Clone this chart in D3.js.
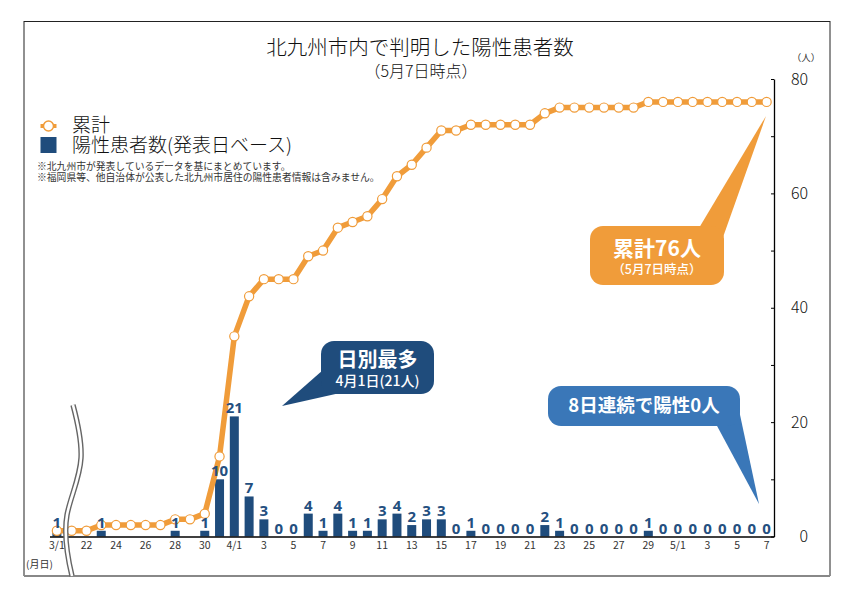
<!DOCTYPE html>
<html>
<head>
<meta charset="utf-8">
<script src="https://cdn.jsdelivr.net/npm/d3@7"></script>
<style>
  body { margin: 0; background: #fff; }
  svg { font-family: "Noto Sans CJK JP", "Noto Sans", sans-serif; }
</style>
</head>
<body>
<script>
// dates (3/2-3/20 are skipped, shown by the break mark)
var dates = ["3/1",
  "3/21","3/22","3/23","3/24","3/25","3/26","3/27","3/28","3/29","3/30","3/31",
  "4/1","4/2","4/3","4/4","4/5","4/6","4/7","4/8","4/9","4/10",
  "4/11","4/12","4/13","4/14","4/15","4/16","4/17","4/18","4/19","4/20",
  "4/21","4/22","4/23","4/24","4/25","4/26","4/27","4/28","4/29","4/30",
  "5/1","5/2","5/3","5/4","5/5","5/6","5/7"];

// daily positives (null = no label shown, drawn as 0)
var daily = [1,
  null,null,1,null,null,null,null,1,null,1,10,
  21,7,3,0,0,4,1,4,1,1,
  3,4,2,3,3,0,1,0,0,0,
  0,2,1,0,0,0,0,0,1,0,
  0,0,0,0,0,0,0];

// cumulative total
var cumulative = [1,
  1,1,2,2,2,2,2,3,3,4,14,
  35,42,45,45,45,49,50,54,55,56,
  59,63,65,68,71,71,72,72,72,72,
  72,74,75,75,75,75,75,75,76,76,
  76,76,76,76,76,76,76];

var tickDates = ["3/1","3/22","3/24","3/26","3/28","3/30","4/1","4/3","4/5","4/7","4/9",
  "4/11","4/13","4/15","4/17","4/19","4/21","4/23","4/25","4/27","4/29",
  "5/1","5/3","5/5","5/7"];
var yTicks = [0,10,20,30,40,50,60,70,80];
var yLabels = [0,20,40,60,80];

var orange = "#f09c3a", navy = "#1f4c7c", blue = "#3a77b8";

var width = 855, height = 600;
var svg = d3.select("body").append("svg")
  .attr("width", width)
  .attr("height", height);

// frame
svg.append("rect")
  .attr("x", 24).attr("y", 21.5)
  .attr("width", 806).attr("height", 554)
  .attr("fill", "none").attr("stroke", "#222").attr("stroke-width", 1);
svg.append("line")
  .attr("x1", 24).attr("x2", 830).attr("y1", 576).attr("y2", 576)
  .attr("stroke", "#888").attr("stroke-width", 2);

var x = d3.scaleBand().domain(dates).range([49.5, 774]).padding(0);
var y = d3.scaleLinear().domain([0, 80]).range([536.5, 79]);

// titles
svg.append("text").attr("x", 420).attr("y", 55)
  .attr("text-anchor", "middle").attr("font-size", 20.5).attr("font-weight", 300).attr("fill", "#111")
  .text("北九州市内で判明した陽性患者数");
svg.append("text").attr("x", 421).attr("y", 77)
  .attr("text-anchor", "middle").attr("font-size", 16).attr("font-weight", 300).attr("fill", "#111")
  .text("（5月7日時点）");

// legend
svg.append("line").attr("x1", 40.5).attr("x2", 56.5).attr("y1", 126).attr("y2", 126)
  .attr("stroke", orange).attr("stroke-width", 4);
svg.append("circle").attr("cx", 48.5).attr("cy", 126).attr("r", 5)
  .attr("fill", "#fff").attr("stroke", orange).attr("stroke-width", 1.5);
svg.append("rect").attr("x", 40.5).attr("y", 137).attr("width", 16).attr("height", 16)
  .attr("fill", navy);
svg.append("text").attr("x", 72).attr("y", 132).attr("font-size", 19).attr("font-weight", 300).attr("fill", "#111")
  .text("累計");
svg.append("text").attr("x", 72).attr("y", 152).attr("font-size", 19).attr("font-weight", 300).attr("fill", "#111")
  .text("陽性患者数(発表日ベース)");
svg.append("text").attr("x", 37).attr("y", 170).attr("font-size", 9.8).attr("fill", "#333")
  .text("※北九州市が発表しているデータを基にまとめています。");
svg.append("text").attr("x", 37).attr("y", 181).attr("font-size", 9.8).attr("fill", "#333")
  .text("※福岡県等、他自治体が公表した北九州市居住の陽性患者情報は含みません。");

// bars
var barW = 9;
svg.selectAll("rect.bar")
  .data(dates)
  .enter().append("rect")
  .attr("class", "bar")
  .attr("x", function(d){ return x(d) + x.bandwidth() / 2 - barW / 2; })
  .attr("y", function(d, i){ return y(daily[i] || 0); })
  .attr("width", barW)
  .attr("height", function(d, i){ return y(0) - y(daily[i] || 0); })
  .attr("fill", navy);

// axes
var xAxis = svg.append("g")
  .attr("transform", "translate(0," + y(0) + ")")
  .call(d3.axisBottom(x)
    .tickValues(tickDates)
    .tickSize(0).tickSizeOuter(0).tickPadding(5.5)
    .tickFormat(function(d){
      var p = d.split("/");
      return p[1] === "1" ? d : p[1];
    }));
xAxis.select(".domain").attr("stroke", "#000").attr("stroke-width", 1.5);
xAxis.selectAll("text").attr("font-size", 10.5).attr("fill", "#333")
  .attr("font-family", "'Noto Sans CJK JP', sans-serif");

var yTickAxis = svg.append("g")
  .attr("transform", "translate(774,0)")
  .call(d3.axisLeft(y).tickValues(yTicks).tickSize(3).tickSizeOuter(0).tickFormat(""));
yTickAxis.select(".domain").attr("stroke", "#000").attr("stroke-width", 1.3);
yTickAxis.selectAll("line").attr("stroke", "#000");

var yLabelAxis = svg.append("g")
  .attr("transform", "translate(774,0)")
  .call(d3.axisRight(y).tickValues(yLabels).tickSize(0).tickPadding(0));
yLabelAxis.select(".domain").remove();
yLabelAxis.selectAll("text")
  .attr("x", 34).attr("text-anchor", "end")
  .attr("font-size", 16).attr("font-weight", 300).attr("fill", "#111")
  .attr("font-family", "'Noto Sans CJK JP', sans-serif");

svg.append("text").attr("x", 806).attr("y", 61).attr("text-anchor", "middle")
  .attr("font-size", 9.5).attr("fill", "#333").text("（人）");
svg.append("text").attr("x", 26).attr("y", 567.5)
  .attr("font-size", 10).attr("fill", "#333").text("(月日)");

// cumulative line
var line = d3.line()
  .x(function(d, i){ return x(dates[i]) + x.bandwidth() / 2; })
  .y(function(d){ return y(d); });
svg.append("path")
  .datum(cumulative)
  .attr("d", line)
  .attr("fill", "none")
  .attr("stroke", orange)
  .attr("stroke-width", 5.5)
  .attr("stroke-linejoin", "round");
svg.selectAll("circle.pt")
  .data(cumulative)
  .enter().append("circle")
  .attr("class", "pt")
  .attr("cx", function(d, i){ return x(dates[i]) + x.bandwidth() / 2; })
  .attr("cy", function(d){ return y(d); })
  .attr("r", 4.6)
  .attr("fill", "#fff")
  .attr("stroke", orange)
  .attr("stroke-width", 1.2);

// bar labels
svg.selectAll("text.lbl")
  .data(dates)
  .enter().append("text")
  .attr("class", "lbl")
  .attr("x", function(d){ return x(d) + x.bandwidth() / 2; })
  .attr("y", function(d, i){ return y(daily[i] || 0) - 3; })
  .attr("text-anchor", "middle")
  .attr("font-family", "'Open Sans', sans-serif")
  .attr("font-weight", 700)
  .attr("font-size", 15)
  .attr("fill", "#244f80")
  .text(function(d, i){ return daily[i] === null ? "" : daily[i]; });

// axis break mark
var brk = "M73,405 C77,420 82,440 81,458 C80,478 70,498 67,515 C64,532 67,555 72,576";
svg.append("path").attr("d", brk).attr("fill", "none")
  .attr("stroke", "#666").attr("stroke-width", 5.4);
svg.append("path").attr("d", brk).attr("fill", "none")
  .attr("stroke", "#fff").attr("stroke-width", 2.6);

// callouts
function callout(fill, box, tail) {
  var g = svg.append("g");
  g.append("polygon").attr("points", tail.join(" ")).attr("fill", fill);
  g.append("rect")
    .attr("x", box[0]).attr("y", box[1])
    .attr("width", box[2]).attr("height", box[3])
    .attr("rx", 13).attr("fill", fill);
  return g;
}

var c1 = callout(navy, [321, 341, 113, 53], [[323,370],[282,406],[340,393]]);
c1.append("text").attr("x", 377.5).attr("y", 367).attr("text-anchor", "middle")
  .attr("font-size", 20).attr("font-weight", 700).attr("fill", "#fff").text("日別最多");
c1.append("text").attr("x", 377.5).attr("y", 385.5).attr("text-anchor", "middle")
  .attr("font-size", 14).attr("font-weight", 500).attr("fill", "#fff").text("4月1日(21人)");

var c2 = callout(orange, [590, 226, 134, 59], [[699,228],[766,116],[722,240]]);
c2.append("text").attr("x", 657).attr("y", 256).attr("text-anchor", "middle")
  .attr("font-size", 21).attr("font-weight", 700).attr("fill", "#fff").text("累計76人");
c2.append("text").attr("x", 657).attr("y", 274).attr("text-anchor", "middle")
  .attr("font-size", 12.5).attr("font-weight", 500).attr("fill", "#fff").text("（5月7日時点）");

var c3 = callout(blue, [548, 386, 192, 40], [[716,424],[759,504],[739,410]]);
c3.append("text").attr("x", 644).attr("y", 412).attr("text-anchor", "middle")
  .attr("font-size", 18.5).attr("font-weight", 700).attr("fill", "#fff").text("8日連続で陽性0人");
</script>
</body>
</html>
